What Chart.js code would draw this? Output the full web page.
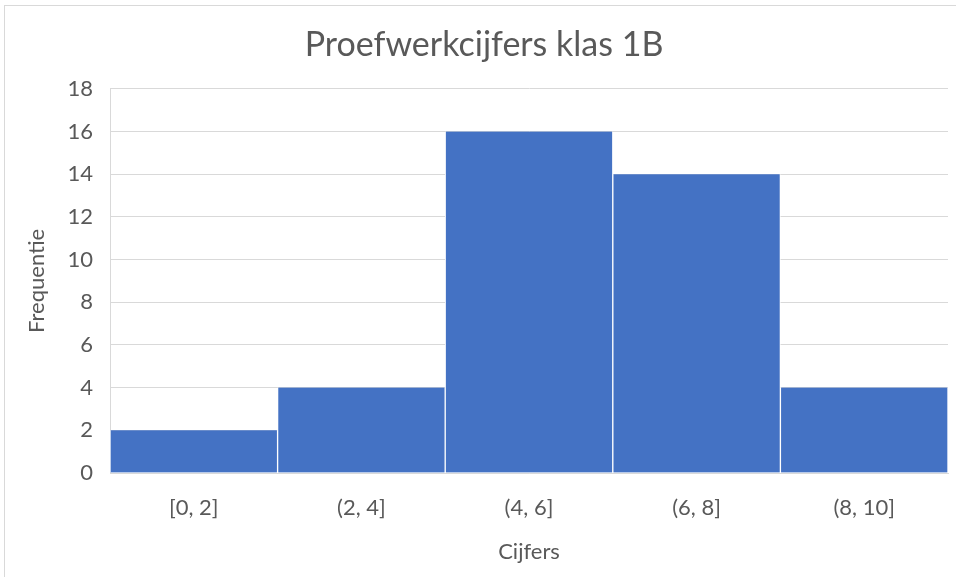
<!DOCTYPE html>
<html>
<head>
<meta charset="utf-8">
<script src="https://cdn.jsdelivr.net/npm/chart.js@4"></script>
<style>
  html, body { margin: 0; padding: 0; background: #fff; overflow: hidden; }
  #wrap { position: relative; width: 956px; height: 577px; }
  #frame { position: absolute; left: 4px; top: 5px; width: 1000px; height: 700px; border: 1px solid #d9d9d9; box-sizing: border-box; }
  canvas { position: absolute; left: 0; top: 0; }
</style>
</head>
<body>
<div id="wrap">
  <div id="frame"></div>
  <canvas id="histChart" width="956" height="577"></canvas>
</div>
<script>
    const categories = ['[0, 2]', '(2, 4]', '(4, 6]', '(6, 8]', '(8, 10]'];
    const frequencies = [2, 4, 16, 14, 4];
    const yTicks = [0, 2, 4, 6, 8, 10, 12, 14, 16, 18];

    const textColor = '#595959';
    const gridColor = '#d9d9d9';
    const fontFamily = 'Lato, "Open Sans", sans-serif';

    const ctx = document.getElementById('histChart').getContext('2d');
    new Chart(ctx, {
        type: 'bar',
        data: {
            labels: categories,
            datasets: [{
                label: 'Frequentie',
                data: frequencies,
                backgroundColor: '#4472c4',
                borderColor: '#ffffff',
                borderWidth: { left: 1, right: 1, top: 0, bottom: 0 },
                barPercentage: 1,
                categoryPercentage: 1
            }]
        },
        options: {
            responsive: false,
            animation: false,
            layout: {
                padding: { left: 20, right: 8, top: 0, bottom: 0 }
            },
            plugins: {
                legend: { display: false },
                tooltip: { enabled: false },
                title: {
                    display: true,
                    text: 'Proefwerkcijfers klas 1B',
                    color: textColor,
                    font: { family: fontFamily, size: 34, weight: 'normal' },
                    padding: { top: 25, bottom: 23 }
                }
            },
            scales: {
                x: {
                    grid: { display: false, drawTicks: false },
                    border: { display: true, color: gridColor },
                    ticks: {
                        color: textColor,
                        font: { family: fontFamily, size: 22 },
                        padding: 22
                    },
                    title: {
                        display: true,
                        text: 'Cijfers',
                        color: textColor,
                        font: { family: fontFamily, size: 22 },
                        padding: { top: 10, bottom: 12 }
                    },
                    afterFit: scale => { scale.height = 104; }
                },
                y: {
                    min: 0,
                    max: 18,
                    afterBuildTicks: scale => {
                        scale.ticks = yTicks.map(v => ({ value: v }));
                    },
                    grid: { color: gridColor, drawTicks: false },
                    border: { display: true, color: gridColor },
                    ticks: {
                        color: textColor,
                        font: { family: fontFamily, size: 22 },
                        padding: 17
                    },
                    title: {
                        display: true,
                        text: 'Frequentie',
                        color: textColor,
                        font: { family: fontFamily, size: 22 },
                        padding: { top: 4, bottom: 10 }
                    },
                    afterFit: scale => { scale.width = 90; }
                }
            }
        }
    });
</script>
</body>
</html>
